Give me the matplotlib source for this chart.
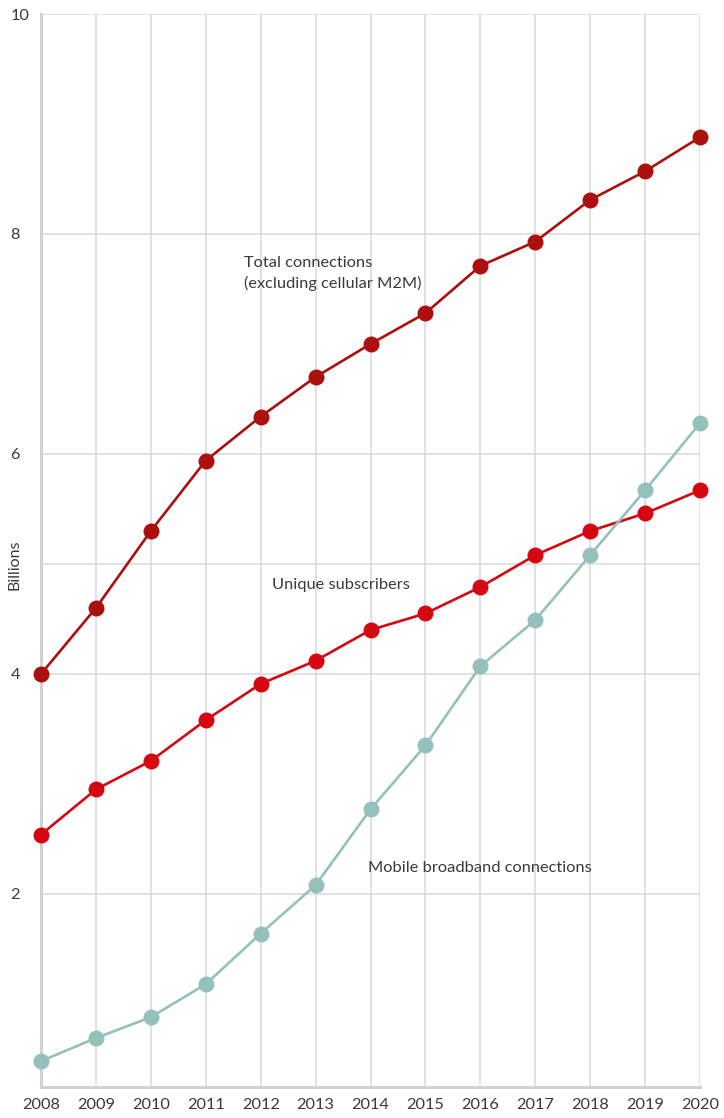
import matplotlib

matplotlib.use("Agg")
import matplotlib.pyplot as plt

# Values (billions)
years = [2008, 2009, 2010, 2011, 2012, 2013, 2014, 2015, 2016, 2017, 2018, 2019, 2020]
total_connections = [4.00, 4.60, 5.30, 5.94, 6.34, 6.70, 7.00, 7.28, 7.71, 7.93, 8.31, 8.57, 8.88]
unique_subscribers = [2.54, 2.95, 3.21, 3.58, 3.91, 4.12, 4.40, 4.55, 4.79, 5.08, 5.30, 5.46, 5.67]
mobile_broadband = [0.48, 0.69, 0.88, 1.18, 1.64, 2.08, 2.77, 3.35, 4.07, 4.49, 5.08, 5.67, 6.28]
y_ticks = [2, 4, 6, 8, 10]

TEXT = "#3a3a3a"
GRID = "#dcdcdc"

plt.rcParams.update({"font.family": ["Lato", "DejaVu Sans"], "font.size": 11})

W, H = 724, 1118
fig = plt.figure(figsize=(W / 100, H / 100), dpi=100)
ax = fig.add_axes([41 / W, 1 - 1087 / H, (700 - 41) / W, (1087 - 14) / H])

ax.set_xlim(years[0], years[-1])
ax.set_ylim(0.245, 10)

# grid
for yr in years:
    ax.axvline(yr, color=GRID, lw=1.2, zorder=1)
for v in y_ticks + [5]:
    ax.axhline(v, color=GRID, lw=1.2, zorder=1)

series = [
    (total_connections, "#ab0f0e"),
    (unique_subscribers, "#d50811"),
    (mobile_broadband, "#94c1bc"),
]
for vals, col in series:
    ax.plot(years, vals, color=col, lw=1.9, marker="o", markersize=11.5,
            markeredgewidth=0, zorder=3, clip_on=False)

for s in ["top", "right"]:
    ax.spines[s].set_visible(False)
for s in ["left", "bottom"]:
    ax.spines[s].set_color("#d2d2d2")
    ax.spines[s].set_linewidth(2.2)

ax.set_xticks(years)
ax.set_xticklabels([str(y) for y in years])
ax.set_yticks(y_ticks)
ax.set_yticklabels([str(v) for v in y_ticks])
ax.tick_params(axis="both", length=0, colors=TEXT, labelsize=11.8)
ax.tick_params(axis="x", pad=8)
ax.tick_params(axis="y", pad=22)
for lab in ax.get_yticklabels():
    lab.set_horizontalalignment("left")

fig.text(14 / W, 1 - 565 / H, "Billions", rotation=90, ha="center", va="center",
         color=TEXT, fontsize=11.5)

ax.text(2011.7, 7.64, "Total connections\n(excluding cellular M2M)", color=TEXT,
        fontsize=11.8, ha="left", va="center", linespacing=1.5, zorder=4)
ax.text(2012.2, 4.81, "Unique subscribers", color=TEXT, fontsize=11.8,
        ha="left", va="center", zorder=4)
ax.text(2013.95, 2.24, "Mobile broadband connections", color=TEXT, fontsize=11.8,
        ha="left", va="center", zorder=4)

fig.savefig("out.png", dpi=100, facecolor="white")
